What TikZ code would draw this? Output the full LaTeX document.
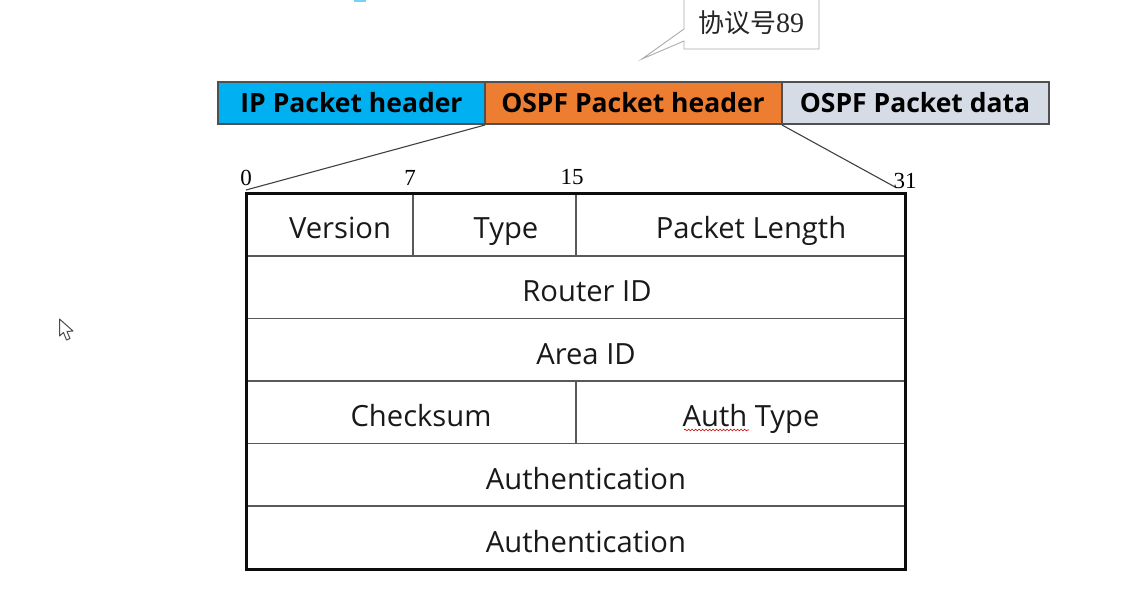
\documentclass[tikz,border=0pt]{standalone}
\usepackage{fontspec}
\setmainfont{Open Sans}
\newfontfamily\numfont{Liberation Serif}
\newfontfamily\cjkfont{Noto Sans CJK SC}
\usetikzlibrary{decorations.pathmorphing}
\definecolor{ipblue}{HTML}{00B0F0}
\definecolor{ospforange}{HTML}{ED7D31}
\definecolor{datagrey}{HTML}{D6DCE5}
\definecolor{edgegrey}{HTML}{505050}
\definecolor{notegrey}{HTML}{ABABAB}
\tikzset{
  x=1pt,y=-1pt,
  barcell/.style={draw=edgegrey,line width=1.1pt},
  bartext/.style={inner sep=0pt,anchor=base,text=black,
    font=\fontsize{26.5}{30}\selectfont\bfseries},
  fieldtext/.style={inner sep=0pt,anchor=base,text=black!90,font=\fontsize{29.2}{34}\selectfont},
  bitnum/.style={inner sep=0pt,anchor=base,text=black,font=\numfont\fontsize{23}{26}\selectfont},
  rowline/.style={draw=black!65,line width=1.3pt},
  frameline/.style={draw=black!95,line width=3pt},
  fanline/.style={draw=black!75,line width=1.1pt},
}
\begin{document}
\begin{tikzpicture}
\useasboundingbox (0,0) rectangle (1135,592);
% packet bar
\draw[barcell,fill=ipblue] (218,82) rectangle (485,124);
\draw[barcell,fill=ospforange] (485,82) rectangle (782,124);
\draw[barcell,fill=datagrey] (782,82) rectangle (1049,124);
\coordinate (ospfL) at (485,125);
\coordinate (ospfR) at (782,125);
\node[bartext] (iphdr) at (351.5,112) {IP Packet header};
\node[bartext] (ospfhdr) at (633,112) {OSPF Packet header};
\node[bartext] (ospfdata) at (915,112) {OSPF Packet data};
% callout above the bar
\draw[draw=notegrey,line width=0.9pt,fill=white]
  (684,-2) -- (819,-2) -- (819,49) -- (684,49) -- (684,41) -- (642,59) -- (684,29) -- cycle;
\node[inner sep=0pt,anchor=base,text=black!85] (proto) at (751,32)
  {\fontsize{26}{30}\cjkfont 协议号\fontsize{28}{30}\numfont 89};
% bit offsets
\coordinate (frameTL) at (246,190);
\coordinate (frameTR) at (895,187);
\draw[fanline] (ospfL) -- (frameTL);
\draw[fanline] (ospfR) -- (frameTR);
\node[bitnum] (b0) at (246,185) {0};
\node[bitnum] (b7) at (410,185) {7};
\node[bitnum] (b15) at (572,184) {15};
\node[bitnum] (b31) at (905,188) {31};
% field grid
\draw[rowline] (246,256) -- (905,256);
\draw[rowline] (246,318.5) -- (905,318.5);
\draw[rowline] (246,381) -- (905,381);
\draw[rowline] (246,443.5) -- (905,443.5);
\draw[rowline] (246,506) -- (905,506);
\draw[rowline] (413,193) -- (413,256);
\draw[rowline] (576,193) -- (576,256);
\draw[rowline] (576,381) -- (576,443.5);
\draw[frameline] (246,193) rectangle (905,569);
% field names
\node[fieldtext] (version) at (340,238) {Version};
\node[fieldtext] (type) at (506,238) {Type};
\node[fieldtext] (length) at (751,238) {Packet Length};
\node[fieldtext] (router) at (587,301) {Router ID};
\node[fieldtext] (area) at (586,364) {Area ID};
\node[fieldtext] (checksum) at (421,426) {Checksum};
\node[fieldtext] (auth) at (751,426) {Auth Type};
\node[fieldtext] (authA) at (586,489) {Authentication};
\node[fieldtext] (authB) at (586,552) {Authentication};
% spell-check squiggle under the first word
\draw[red!75!black,line width=0.6pt,decorate,decoration={snake,amplitude=0.9pt,segment length=3.5pt}]
  (684,430) -- (749,430);
% mouse pointer
\draw[draw=black!70,line width=1pt,fill=white,line join=round]
  (59.5,319) -- (59.5,336) -- (63.5,332.5) -- (66.5,340) -- (70,338.5) -- (67,331.5) -- (73,331) -- cycle;
% sliver of an icon cut off at the top edge
\fill[ipblue!55] (354,0) rectangle (366,1.5);
\end{tikzpicture}
\end{document}
